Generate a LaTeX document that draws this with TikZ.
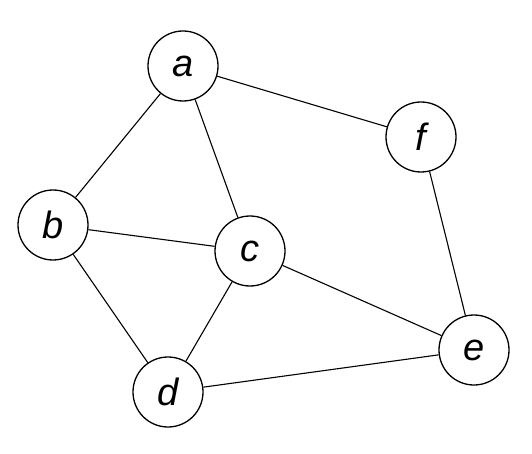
\documentclass[tikz,border=0pt]{standalone}
\usepackage{fontspec}
\setmainfont{Liberation Sans}
\begin{document}
\begin{tikzpicture}[x=1pt,y=-1pt,
  vtx/.style={circle,draw,line width=1.3pt,minimum size=70pt,inner sep=0pt,fill=white,font=\fontsize{38}{38}\selectfont\itshape},
  edge/.style={line width=1.1pt}]
\useasboundingbox (0,0) rectangle (532,454);
\node[vtx] (a) at (183,66) {a};
\node[vtx] (f) at (421,137) {f};
\node[vtx] (b) at (53,225) {b};
\node[vtx] (c) at (250,251) {c};
\node[vtx] (e) at (474,350) {e};
\node[vtx] (d) at (168,392) {d};
\draw[edge] (a) -- (b);
\draw[edge] (a) -- (c);
\draw[edge] (a) -- (f);
\draw[edge] (b) -- (c);
\draw[edge] (b) -- (d);
\draw[edge] (c) -- (d);
\draw[edge] (c) -- (e);
\draw[edge] (f) -- (e);
\draw[edge] (d) -- (e);
\end{tikzpicture}
\end{document}
